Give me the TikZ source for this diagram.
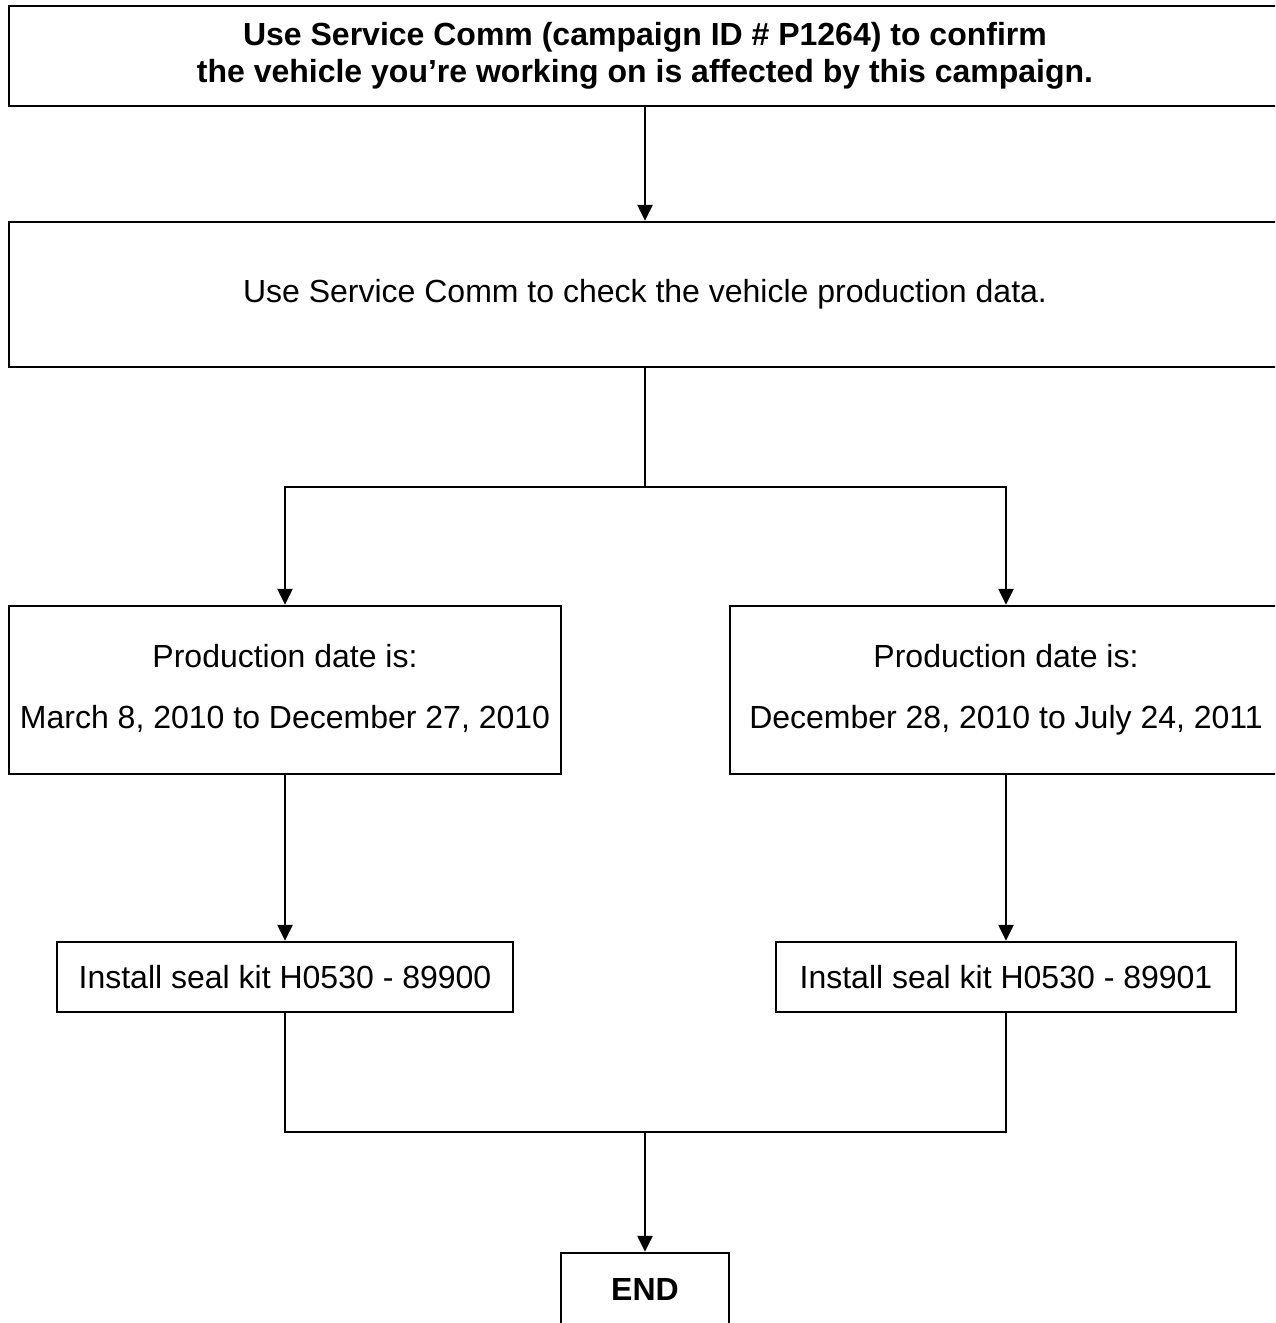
\documentclass[tikz,border=0pt]{standalone}
\usepackage{fontspec}
\setmainfont{Liberation Sans}
\usetikzlibrary{arrows.meta}
\begin{document}
\begin{tikzpicture}[x=1pt,y=-1pt,
  box/.style={draw=black,line width=2.4pt,inner sep=0pt,align=center,
    font=\fontsize{32}{37}\selectfont},
  conn/.style={draw=black,line width=2.4pt},
  arr/.style={conn,-{Triangle[length=16pt,width=15pt]}}]
\useasboundingbox (0,0) rectangle (1275,1323);
\clip (0,0) rectangle (1275,1323);
\node[box,font=\fontsize{32}{37}\selectfont\bfseries,minimum width=1272pt,minimum height=100pt] (top) at (645,56)
  {Use Service Comm (campaign ID \# P1264) to confirm\\the vehicle you’re working on is affected by this campaign.};
\node[box,minimum width=1272pt,minimum height=145pt] (check) at (645,294.5)
  {Use Service Comm to check the vehicle production data.};
\node[box,font=\fontsize{32}{61}\selectfont,minimum width=552pt,minimum height=168pt] (left) at (285,690)
  {Production date is:\\March 8, 2010 to December 27, 2010\vphantom{y}};
\node[box,font=\fontsize{32}{61}\selectfont,minimum width=552pt,minimum height=168pt] (right) at (1006,690)
  {Production date is:\\December 28, 2010 to July 24, 2011};
\node[box,minimum width=456pt,minimum height=70pt] (ileft) at (285,977)
  {Install seal kit H0530 - 89900};
\node[box,minimum width=460pt,minimum height=70pt] (iright) at (1006,977)
  {Install seal kit H0530 - 89901};
\node[box,font=\fontsize{32}{37}\selectfont\bfseries,minimum width=168pt,minimum height=72pt] (end) at (645,1289)
  {END};
\coordinate (split) at (645,487);
\coordinate (merge) at (645,1132);
\draw[arr] (top.south) -- (check.north);
\draw[conn] (check.south) -- (split);
\draw[arr] (split) -| (left.north);
\draw[arr] (split) -| (right.north);
\draw[arr] (left.south) -- (ileft.north);
\draw[arr] (right.south) -- (iright.north);
\draw[conn] (ileft.south) |- (merge);
\draw[conn] (iright.south) |- (merge);
\draw[arr] (merge) -- (end.north);
\end{tikzpicture}
\end{document}
